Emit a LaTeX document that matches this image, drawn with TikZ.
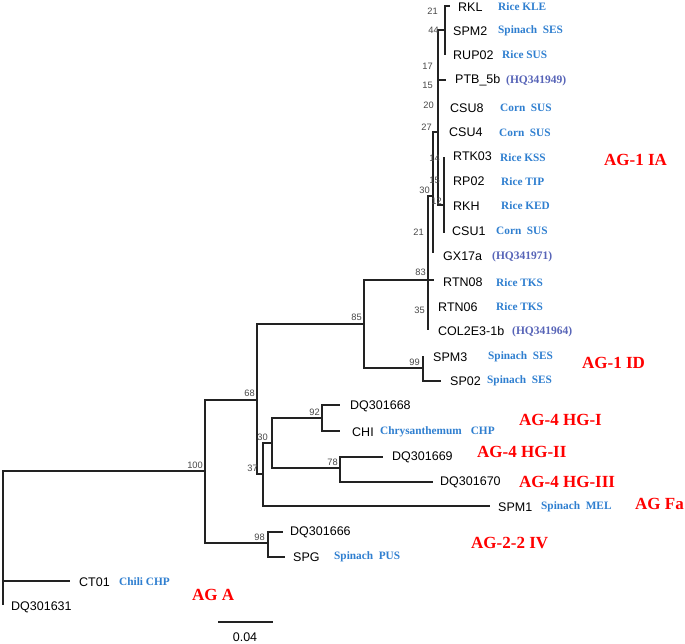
\documentclass[tikz,border=0pt]{standalone}
\usepackage{fontspec}
\setmainfont{Liberation Serif}
\setsansfont{Liberation Sans}
\definecolor{lblue}{HTML}{2F7FD0}
\definecolor{hqc}{HTML}{5865B8}
\definecolor{bsg}{HTML}{484848}
\definecolor{agred}{HTML}{FF0000}
\definecolor{brc}{HTML}{222222}
\begin{document}
\begin{tikzpicture}[x=1pt,y=-1pt,
 br/.style={draw=brc,line width=1.4pt},
 leaf/.style={anchor=west,inner sep=0pt,font=\sffamily\fontsize{12.5}{14}\selectfont},
 src/.style={anchor=west,inner sep=0pt,text=lblue,font=\rmfamily\bfseries\fontsize{11.3}{13}\selectfont},
 acc/.style={anchor=west,inner sep=0pt,text=hqc,font=\rmfamily\bfseries\fontsize{11.5}{13}\selectfont},
 bs/.style={anchor=east,inner sep=0pt,text=bsg,font=\sffamily\fontsize{9.3}{10}\selectfont},
 grp/.style={anchor=west,inner sep=0pt,text=agred,font=\rmfamily\bfseries\fontsize{17}{19}\selectfont}]
\fill[white] (0,0) rectangle (685,643);
\useasboundingbox (0,0) rectangle (685,643);

% internal nodes and branch ends
\coordinate (R) at (3,581);
\coordinate (n100) at (205,471);
\coordinate (eCT01) at (70,581);
\coordinate (eDQ31) at (3,605);
\coordinate (n68) at (257,400);
\coordinate (n98) at (268,543);
\coordinate (n85) at (364,324);
\coordinate (n37) at (263,474);
\coordinate (n30) at (272,443);
\coordinate (eSPM1) at (490,506);
\coordinate (n92) at (322,418);
\coordinate (n78) at (340,468);
\coordinate (eDQ68) at (340,405);
\coordinate (eCHI) at (340,431);
\coordinate (eDQ69) at (383,457);
\coordinate (eDQ70) at (433,482);
\coordinate (eDQ66) at (283,532);
\coordinate (eSPG) at (285,557);
\coordinate (n83) at (428,280);
\coordinate (n99) at (423,368);
\coordinate (eSPM3) at (423,356);
\coordinate (eSP02) at (441,381);
\coordinate (n30b) at (433,196);
\coordinate (eRTN08) at (434,280);
\coordinate (eRTN06) at (428,306);
\coordinate (eCOL) at (428,330);
\coordinate (n27) at (438,132);
\coordinate (eGX) at (433,253);
\coordinate (n44) at (445,30);
\coordinate (ePTB) at (446,80);
\coordinate (n12) at (444,205);
\coordinate (eRKL) at (450,6);
\coordinate (eRUP) at (445,55);
\coordinate (eRTK) at (444,157);
\coordinate (eCSU1) at (444,233);

% branches
\draw[br] (R) |- (n100);
\draw[br] (R) |- (eCT01);
\draw[br] (R) |- (eDQ31);
\draw[br] (n100) |- (n68);
\draw[br] (n100) |- (n98);
\draw[br] (n68) |- (n85);
\draw[br] (n68) |- (n37);
\draw[br] (n37) |- (n30);
\draw[br] (n37) |- (eSPM1);
\draw[br] (n30) |- (n92);
\draw[br] (n30) |- (n78);
\draw[br] (n92) |- (eDQ68);
\draw[br] (n92) |- (eCHI);
\draw[br] (n78) |- (eDQ69);
\draw[br] (n78) |- (eDQ70);
\draw[br] (n98) |- (eDQ66);
\draw[br] (n98) |- (eSPG);
\draw[br] (n85) |- (n83);
\draw[br] (n85) |- (n99);
\draw[br] (n99) |- (eSPM3);
\draw[br] (n99) |- (eSP02);
\draw[br] (n83) |- (n30b);
\draw[br] (n83) -- (eRTN08);
\draw[br] (n83) |- (eCOL);
\draw[br] (n30b) |- (n27);
\draw[br] (n30b) |- (eGX);
\draw[br] (n27) |- (n44);
\draw[br] (n27) |- (ePTB);
\draw[br] (n27) |- (n12);
\draw[br] (n44) |- (eRKL);
\draw[br] (n44) |- (eRUP);
\draw[br] (n12) |- (eRTK);
\draw[br] (n12) |- (eCSU1);

% leaf labels
\node[leaf] (lRKL) at (458,7) {RKL};
\node[leaf] (lSPM2) at (453,31) {SPM2};
\node[leaf] (lRUP) at (453,55) {RUP02};
\node[leaf] (lPTB) at (455,80) {PTB\_5b};
\node[leaf] (lCSU8) at (450,108) {CSU8};
\node[leaf] (lCSU4) at (449,132) {CSU4};
\node[leaf] (lRTK) at (453,156) {RTK03};
\node[leaf] (lRP02) at (453,181) {RP02};
\node[leaf] (lRKH) at (453,206) {RKH};
\node[leaf] (lCSU1) at (452,231) {CSU1};
\node[leaf] (lGX) at (443,256) {GX17a};
\node[leaf] (lRTN08) at (443,282) {RTN08};
\node[leaf] (lRTN06) at (438,307) {RTN06};
\node[leaf] (lCOL) at (438,331) {COL2E3-1b};
\node[leaf] (lSPM3) at (433,357) {SPM3};
\node[leaf] (lSP02) at (450,381) {SP02};
\node[leaf] (lDQ68) at (350,406) {DQ301668};
\node[leaf] (lCHI) at (352,432) {CHI};
\node[leaf] (lDQ69) at (392,457) {DQ301669};
\node[leaf] (lDQ70) at (440,482) {DQ301670};
\node[leaf] (lSPM1) at (498,507) {SPM1};
\node[leaf] (lDQ66) at (290,532) {DQ301666};
\node[leaf] (lSPG) at (293,557) {SPG};
\node[leaf] (lCT01) at (79,582) {CT01};
\node[leaf] (lDQ31) at (11,607) {DQ301631};

% source labels
\node[src] (sRKL) at (498,7) {Rice KLE};
\node[src] (sSPM2) at (498,31) {Spinach\ \ SES};
\node[src] (sRUP) at (502,55) {Rice SUS};
\node[acc] (sPTB) at (506,81) {(HQ341949)};
\node[src] (sCSU8) at (500,108) {Corn\ \ SUS};
\node[src] (sCSU4) at (499,133) {Corn\ \ SUS};
\node[src] (sRTK) at (500,158) {Rice KSS};
\node[src] (sRP02) at (501,182) {Rice TIP};
\node[src] (sRKH) at (501,206) {Rice KED};
\node[src] (sCSU1) at (496,231) {Corn\ \ SUS};
\node[acc] (sGX) at (492,257) {(HQ341971)};
\node[src] (sRTN08) at (496,283) {Rice TKS};
\node[src] (sRTN06) at (496,307) {Rice TKS};
\node[acc] (sCOL) at (512,332) {(HQ341964)};
\node[src] (sSPM3) at (488,357) {Spinach\ \ SES};
\node[src] (sSP02) at (487,381) {Spinach\ \ SES};
\node[src] (sCHI) at (380,432) {Chrysanthemum\hspace{9pt}CHP};
\node[src] (sSPM1) at (541,507) {Spinach\ \ MEL};
\node[src] (sSPG) at (334,557) {Spinach\ \ PUS};
\node[src] (sCT01) at (119,582) {Chili CHP};

% bootstrap values
\node[bs] (b1) at (438,11) {21};
\node[bs] (b2) at (439,30) {44};
\node[bs] (b3) at (433,66) {17};
\node[bs] (b4) at (433,85) {15};
\node[bs] (b5) at (434,105) {20};
\node[bs] (b6) at (432,127) {27};
\node[bs] (b7) at (440,158) {14};
\node[bs] (b8) at (440,180) {15};
\node[bs] (b9) at (430,190) {30};
\node[bs] (b10) at (442,201) {12};
\node[bs] (b11) at (424,232) {21};
\node[bs] (b12) at (426,272) {83};
\node[bs] (b13) at (425,310) {35};
\node[bs] (b14) at (362,317) {85};
\node[bs] (b15) at (420,362) {99};
\node[bs] (b16) at (255,393) {68};
\node[bs] (b17) at (320,412) {92};
\node[bs] (b18) at (268,437) {30};
\node[bs] (b19) at (258,468) {37};
\node[bs] (b20) at (338,462) {78};
\node[bs] (b21) at (203,465) {100};
\node[bs] (b22) at (265,537) {98};

% group labels
\node[grp] (gIA) at (604,160) {AG-1 IA};
\node[grp] (gID) at (582,363) {AG-1 ID};
\node[grp] (gH1) at (519,420) {AG-4 HG-I};
\node[grp] (gH2) at (477,452) {AG-4 HG-II};
\node[grp] (gH3) at (519,482) {AG-4 HG-III};
\node[grp] (gFa) at (635,504) {AG Fa};
\node[grp] (g22) at (471,543) {AG-2-2 IV};
\node[grp] (gA) at (192,595) {AG A};

% scale bar
\coordinate (sb1) at (218,622);
\coordinate (sb2) at (273,622);
\draw[br,line width=1.2pt] (sb1) -- (sb2);
\node[leaf,anchor=center] (sbl) at (245,637) {0.04};
\end{tikzpicture}
\end{document}
